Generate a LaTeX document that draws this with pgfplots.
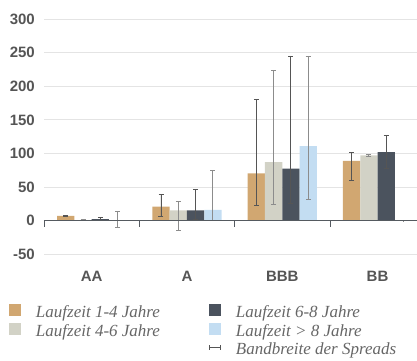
\documentclass[border=0pt]{standalone}
\usepackage{pgfplots}
\pgfplotsset{compat=1.18}
\usepackage{fontspec}
\setmainfont{Liberation Serif}
\setsansfont{Liberation Sans}
\definecolor{c1}{HTML}{D1A771}
\definecolor{c2}{HTML}{D2D2C6}
\definecolor{c3}{HTML}{4B535E}
\definecolor{c4}{HTML}{C3DDF2}
\definecolor{errdark}{HTML}{555555}
\definecolor{errlight}{HTML}{8C8C8C}
\definecolor{gridc}{HTML}{E4E4E4}
\definecolor{zeroc}{HTML}{555A60}
\definecolor{labc}{HTML}{555555}
\definecolor{legc}{HTML}{666666}
\newcommand{\ent}[1]{\hspace*{15pt}\makebox[173pt][l]{\rule[-5pt]{0pt}{22pt}#1}}
\pgfplotsset{
  errstyle/.style={error bars/.cd, y dir=both, y explicit,
    error bar style={line width=0.9pt, color=#1},
    error mark options={rotate=90, mark size=2.5pt, line width=0.9pt, color=#1}},
}
\begin{document}
\begin{tikzpicture}
\path[use as bounding box] (0,0) rectangle (417pt,360pt);
\begin{axis}[
  at={(44pt,105.7pt)}, anchor=south west,
  scale only axis, width=373pt, height=235.3pt,
  xmin=-0.5, xmax=3.414, ymin=-50, ymax=300,
  ybar=0pt, bar width=17.3pt,
  axis line style={draw=none},
  major tick length=0pt,
  ymajorgrids, grid style={color=gridc, line width=1pt},
  ytick={-50,0,50,100,150,200,250,300},
  yticklabels={-50,0,50,100,150,200,250,300},
  xtick={0,1,2,3}, xticklabels={AA,A,BBB,BB},
  tick label style={font=\sffamily\bfseries\fontsize{15}{15}\selectfont, text=labc},
  yticklabel style={inner sep=0pt, xshift=-9pt},
  xticklabel style={inner sep=0pt, yshift=-17pt},
  legend columns=2,
  legend cell align=left,
  legend style={at={(axis description cs:0,0)}, anchor=north west,
    xshift=-35pt, yshift=-46.5pt, draw=none, fill=none, inner sep=0pt, outer sep=0pt,
    row sep=0pt, column sep=0pt,
    nodes={inner sep=0pt, outer sep=0pt},
    font=\rmfamily\itshape\fontsize{17}{20}\selectfont, text=legc},
]
\addplot[fill=c1, draw=none, bar shift=-25.95pt, forget plot, errstyle=errdark] coordinates {
  (0,7) += (0,1) -= (0,1)
  (1,21) += (0,18) -= (0,14)
  (2,70.5) += (0,110) -= (0,48.5)
  (3,89) += (0,13) -= (0,29)
};
\addplot[fill=c2, draw=none, bar shift=-8.65pt, forget plot, errstyle=errlight] coordinates {
  (0,1) += (0,0.5) -= (0,0.5)
  (1,15.5) += (0,13.5) -= (0,29.5)
  (2,87) += (0,136) -= (0,63)
  (3,97) += (0,1) -= (0,1)
};
\addplot[fill=c3, draw=none, bar shift=8.65pt, forget plot, errstyle=errdark] coordinates {
  (0,2.5) += (0,2.5) -= (0,2.5)
  (1,15.5) += (0,30.5) -= (0,13.5)
  (2,77.5) += (0,167.5) -= (0,52.5)
  (3,102) += (0,25) -= (0,24)
};
\addplot[fill=c4, draw=none, bar shift=25.95pt, forget plot, errstyle=errlight] coordinates {
  (0,0) += (0,14) -= (0,10)
  (1,16) += (0,59) -= (0,16)
  (2,111) += (0,134) -= (0,79)
  (3,0) += (0,0.3) -= (0,0.3)
};
\draw[color=zeroc, line width=1pt] (axis cs:-0.5,0) -- (axis cs:3.414,0);
\draw[color=zeroc, line width=0.8pt] (axis cs:-0.5,0) -- ++(0pt,-6pt);
\draw[color=zeroc, line width=0.8pt] (axis cs:0.5,0) -- ++(0pt,-6pt);
\draw[color=zeroc, line width=0.8pt] (axis cs:1.5,0) -- ++(0pt,-6pt);
\draw[color=zeroc, line width=0.8pt] (axis cs:2.5,0) -- ++(0pt,-6pt);
\addlegendimage{legend image code/.code={\fill[c1, draw=none] (0pt,-6pt) rectangle (12pt,6pt);}}
\addlegendentry{\ent{Laufzeit 1-4 Jahre}}
\addlegendimage{legend image code/.code={\fill[c3, draw=none] (0pt,-6pt) rectangle (12pt,6pt);}}
\addlegendentry{\ent{Laufzeit 6-8 Jahre}}
\addlegendimage{legend image code/.code={\fill[c2, draw=none] (0pt,-6pt) rectangle (12pt,6pt);}}
\addlegendentry{\ent{Laufzeit 4-6 Jahre}}
\addlegendimage{legend image code/.code={\fill[c4, draw=none] (0pt,-6pt) rectangle (12pt,6pt);}}
\addlegendentry{\ent{Laufzeit > 8 Jahre}}
\addlegendimage{legend image code/.code={\path[draw=none, fill=none] (0pt,-6pt) rectangle (12pt,6pt);}}
\addlegendentry{\ent{}}
\addlegendimage{legend image code/.code={\path[draw=none, fill=none] (0pt,-6pt) rectangle (12pt,6pt);
   \draw[errdark, line width=0.8pt] (0.5pt,0pt) -- (11.5pt,0pt) (0.5pt,-2.5pt) -- (0.5pt,2.5pt) (11.5pt,-2.5pt) -- (11.5pt,2.5pt);}}
\addlegendentry{\ent{Bandbreite der Spreads}}
\end{axis}
\end{tikzpicture}
\end{document}
